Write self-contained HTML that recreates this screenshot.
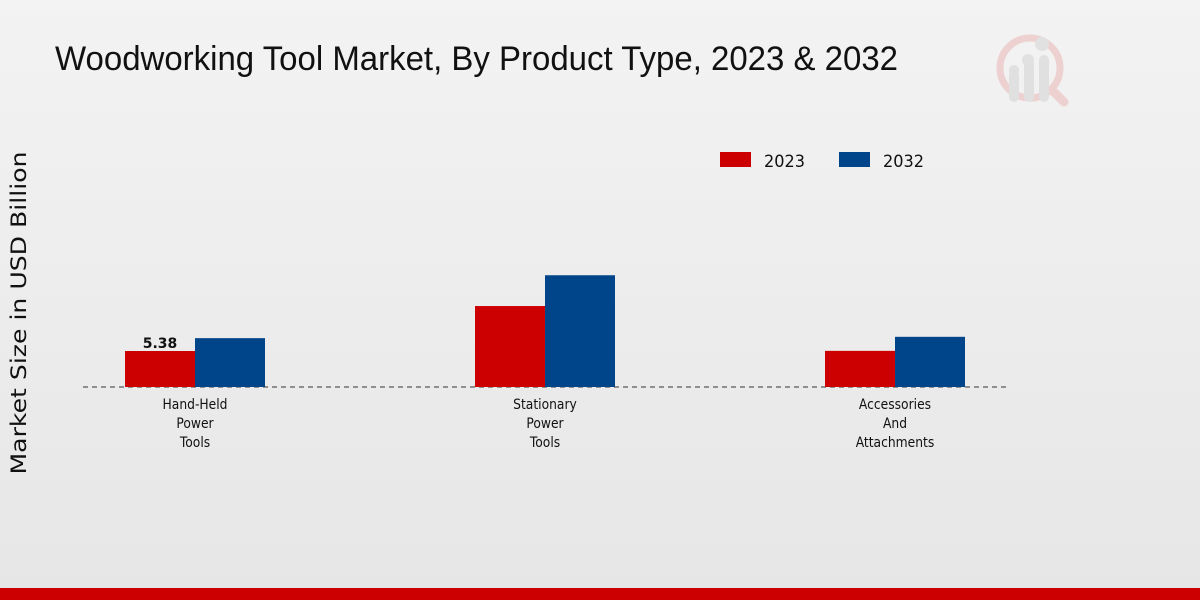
<!DOCTYPE html>
<html><head><meta charset="utf-8"><style>
html,body{margin:0;padding:0;width:1200px;height:600px;overflow:hidden}
body{background:linear-gradient(180deg,#f3f3f3 0%,#e6e6e6 100%);font-family:"DejaVu Sans","Liberation Sans",sans-serif}
svg{position:absolute;left:0;top:0}
</style></head><body>
<svg id="c" width="1200" height="600">
<text x="55" y="70" font-size="34" textLength="843" lengthAdjust="spacingAndGlyphs" fill="#111" font-family="Liberation Sans, sans-serif">Woodworking Tool Market, By Product Type, 2023 &amp; 2032</text>
<g opacity="0.4">
<circle cx="1030" cy="68" r="30" fill="none" stroke="#e8a0a0" stroke-width="7"/>
<line x1="1052" y1="90" x2="1064" y2="102" stroke="#e8a0a0" stroke-width="9" stroke-linecap="round"/>
<rect x="1009" y="70" width="10" height="32" rx="5" fill="#c8c8c8"/>
<rect x="1024" y="60" width="10" height="42" rx="5" fill="#c8c8c8"/>
<rect x="1039" y="55" width="10" height="47" rx="5" fill="#c8c8c8"/>
<circle cx="1014" cy="70" r="5" fill="#c8c8c8"/><circle cx="1028" cy="60" r="6" fill="#c8c8c8"/><circle cx="1042" cy="44" r="7" fill="#c8c8c8"/>
</g>
<text transform="translate(26,313) rotate(-90)" text-anchor="middle" font-size="21" textLength="323" lengthAdjust="spacingAndGlyphs" fill="#111">Market Size in USD Billion</text>
<g>
<rect x="720" y="152" width="31" height="15" fill="#cc0000"/>
<text x="764" y="167" font-size="17" textLength="41" lengthAdjust="spacingAndGlyphs" fill="#111">2023</text>
<rect x="839" y="152" width="31" height="15" fill="#004489"/>
<text x="883" y="167" font-size="17" textLength="41" lengthAdjust="spacingAndGlyphs" fill="#111">2032</text>
</g>
<line x1="83" y1="387" x2="1007" y2="387" stroke="#333" stroke-dasharray="5,4"/>
<g id="bars"></g>
</svg>
<div style="position:absolute;left:0;top:588px;width:1200px;height:12px;background:#cc0000"></div>
<script>
const categories=[["Hand-Held","Power","Tools"],["Stationary","Power","Tools"],["Accessories","And","Attachments"]];
const values2023=[5.38,12.1,5.4];
const values2032=[7.3,16.7,7.5];
const labels2023=["5.38","",""];
const base=387, scale=36/5.38;
const xc=i=>195+i*350;
const y=v=>base-v*scale;
const g=document.getElementById('bars');
const NS='http://www.w3.org/2000/svg';
categories.forEach((cat,i)=>{
  [[values2023,'#cc0000',-70,'2023'],[values2032,'#004489',0,'2032']].forEach(([arr,col,off,yr])=>{
    const r=document.createElementNS(NS,'rect');
    r.setAttribute('x',xc(i)+off);r.setAttribute('y',y(arr[i]));
    r.setAttribute('width',70);r.setAttribute('height',base-y(arr[i]));r.setAttribute('fill',col);
    
    
    g.appendChild(r);
  });
  if(labels2023[i]){
    const t=document.createElementNS(NS,'text');
    t.setAttribute('x',xc(i)-35);t.setAttribute('y',y(values2023[i])-3);
    t.setAttribute('text-anchor','middle');t.setAttribute('font-size','14');t.setAttribute('font-weight','bold');t.setAttribute('fill','#111');
    t.textContent=labels2023[i];
    
    
    g.appendChild(t);
  }
  cat.forEach((ln,j)=>{
    const t=document.createElementNS(NS,'text');
    t.setAttribute('x',xc(i));t.setAttribute('y',409+j*19);
    t.setAttribute('text-anchor','middle');t.setAttribute('font-size','14');t.setAttribute('fill','#111');
    t.setAttribute('transform','translate('+xc(i)+',0) scale(0.88,1) translate('+(-xc(i))+',0)');
    t.textContent=ln;
    
    
    g.appendChild(t);
  });
});
</script>
</body></html>
